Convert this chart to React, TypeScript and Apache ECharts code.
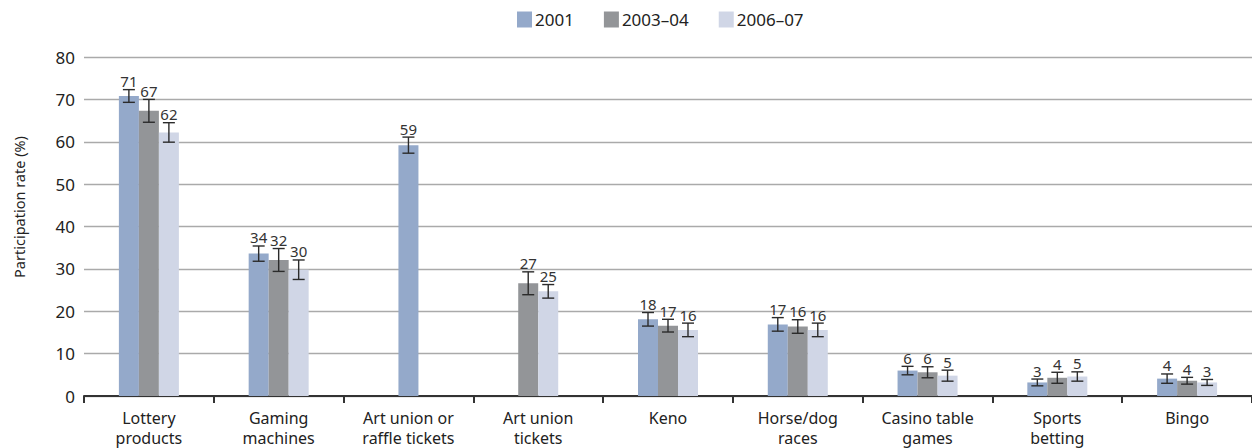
import React, { useEffect, useRef } from "react";
import * as echarts from "echarts";

const categories = [
  "Lottery\nproducts",
  "Gaming\nmachines",
  "Art union or\nraffle tickets",
  "Art union\ntickets",
  "Keno",
  "Horse/dog\nraces",
  "Casino table\ngames",
  "Sports\nbetting",
  "Bingo",
];
const years = ["2001", "2003–04", "2006–07"];
const values2001 = [70.8, 33.6, 59.2, null, 18.1, 16.9, 6.0, 3.2, 4.1];
const values2003 = [67.3, 32.1, null, 26.6, 16.6, 16.4, 5.6, 4.3, 3.6];
const values2006 = [62.2, 29.8, null, 24.7, 15.6, 15.6, 4.8, 4.6, 3.2];
const err2001 = [1.5, 1.8, 1.9, null, 1.6, 1.6, 1.0, 0.8, 1.1];
const err2003 = [2.7, 2.7, null, 2.7, 1.5, 1.6, 1.3, 1.3, 0.8];
const err2006 = [2.3, 2.3, null, 1.6, 1.6, 1.6, 1.3, 1.1, 0.7];
const yTicks = [0, 10, 20, 30, 40, 50, 60, 70, 80];
const yAxisTitle = "Participation rate (%)";

const colors = ["#94A9CA", "#939598", "#D0D6E6"];
const valueSets = [values2001, values2003, values2006];
const errSets = [err2001, err2003, err2006];
const FONT = "Noto Sans";
const BAR_W = 20;
const CAP = 6;

function makeRender(si: number) {
  return (_params: any, api: any) => {
    const cat = api.value(0);
    const val = api.value(1);
    const err = api.value(2);
    const present = valueSets
      .map((v, i) => (v[cat] != null ? i : -1))
      .filter((i) => i >= 0);
    const n = present.length;
    const pos = present.indexOf(si);
    const base = api.coord([cat, 0]);
    const top = api.coord([cat, val]);
    const cx = base[0] + (pos - (n - 1) / 2) * BAR_W;
    const eHi = api.coord([cat, val + err])[1];
    const eLo = api.coord([cat, val - err])[1];
    const stroke = { stroke: "#2b2b2b", lineWidth: 1.4 };
    return {
      type: "group",
      children: [
        {
          type: "rect",
          shape: { x: cx - BAR_W / 2, y: top[1], width: BAR_W, height: base[1] - top[1] },
          style: { fill: colors[si] },
        },
        { type: "line", shape: { x1: cx, y1: eHi, x2: cx, y2: eLo }, style: stroke },
        { type: "line", shape: { x1: cx - CAP, y1: eHi, x2: cx + CAP, y2: eHi }, style: stroke },
        { type: "line", shape: { x1: cx - CAP, y1: eLo, x2: cx + CAP, y2: eLo }, style: stroke },
        {
          type: "text",
          style: {
            text: String(Math.round(val)),
            x: cx,
            y: eHi - 1,
            align: "center",
            verticalAlign: "bottom",
            fontSize: 15,
            fontFamily: FONT,
            fill: "#333",
          },
        },
      ],
    };
  };
}

export default function App() {
  const ref = useRef<HTMLDivElement>(null);
  useEffect(() => {
    document.body.style.margin = "0";
    if (!ref.current) return;
    const chart = echarts.init(ref.current, undefined, { renderer: "svg" });
    const series = years.map((y, si) => ({
      name: y,
      type: "custom",
      itemStyle: { color: colors[si] },
      encode: { x: 0, y: 1 },
      renderItem: makeRender(si),
      data: valueSets[si]
        .map((v, i) => (v == null ? null : [i, v, errSets[si][i]]))
        .filter((d) => d != null),
    }));
    chart.setOption({
      animation: false,
      textStyle: { fontFamily: FONT },
      legend: {
        left: 517,
        top: 11,
        padding: 0,
        itemWidth: 15,
        itemHeight: 16,
        itemGap: 30,
        textStyle: { fontSize: 17, color: "#222", fontFamily: FONT, padding: [0, 0, 0, -2] },
        data: years.map((y) => ({ name: y, icon: "rect" })),
      },
      graphic: [
        {
          type: "text",
          x: 19,
          y: 207,
          rotation: Math.PI / 2,
          style: {
            text: yAxisTitle,
            align: "center",
            verticalAlign: "middle",
            fontSize: 14.5,
            fontFamily: FONT,
            fill: "#222",
          },
        },
      ],
      grid: { left: 84, right: 0, top: 57, bottom: 50, containLabel: false },
      xAxis: {
        type: "category",
        data: categories,
        axisLine: { lineStyle: { color: "#333", width: 2 } },
        axisTick: { show: true, length: 7, lineStyle: { color: "#333", width: 2 } },
        axisLabel: {
          fontSize: 16,
          lineHeight: 20,
          color: "#222",
          margin: 12,
          interval: 0,
          fontFamily: FONT,
        },
      },
      yAxis: {
        type: "value",
        min: yTicks[0],
        max: yTicks[yTicks.length - 1],
        interval: 10,
        axisLine: { show: false },
        axisTick: { show: false },
        axisLabel: { fontSize: 17, color: "#222", margin: 9, fontFamily: FONT },
        splitLine: { lineStyle: { color: "#aaaaaa", width: 1.3 } },
      },
      series,
    });
    return () => chart.dispose();
  }, []);
  return <div ref={ref} style={{ width: 1252, height: 448 }} />;
}
